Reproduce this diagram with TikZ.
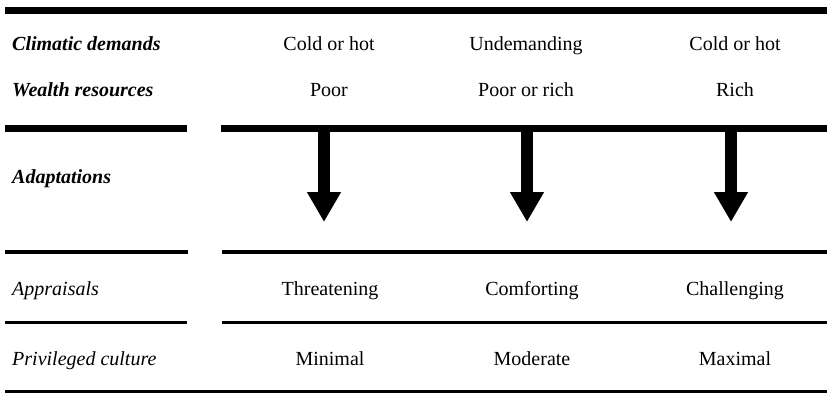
\documentclass[tikz,border=0pt]{standalone}
\usepackage{fontspec}
\setmainfont{Liberation Serif}
\usetikzlibrary{arrows.meta}
\begin{document}
\begin{tikzpicture}[x=1pt,y=-1pt,
  thick rule/.style={line width=7pt},
  thin rule/.style={line width=3.5pt},
  rowlabel/.style={anchor=base west,inner sep=0pt,font=\fontsize{20}{24}\selectfont},
  cell/.style={anchor=base,inner sep=0pt,font=\fontsize{20}{24}\selectfont},
  bigarrow/.style={line width=12pt,-{Triangle[width=32pt,length=30pt]}}]
\useasboundingbox (0,0) rectangle (827,394);
% rules
\coordinate (t0) at (5,10.5); \coordinate (t1) at (827,10.5);
\draw[thick rule] (t0) -- (t1);
\coordinate (s0) at (5,128); \coordinate (s1) at (187,128);
\coordinate (s2) at (221,128); \coordinate (s3) at (827,128);
\draw[thick rule] (s0) -- (s1);
\draw[thick rule] (s2) -- (s3);
\coordinate (u0) at (5,252); \coordinate (u1) at (188,252);
\coordinate (u2) at (222,252); \coordinate (u3) at (827,252);
\draw[thin rule] (u0) -- (u1);
\draw[thin rule] (u2) -- (u3);
\coordinate (v0) at (5,322.5); \coordinate (v1) at (187,322.5);
\coordinate (v2) at (222,322.5); \coordinate (v3) at (827,322.5);
\draw[thin rule] (v0) -- (v1);
\draw[thin rule] (v2) -- (v3);
\coordinate (w0) at (5,391.5); \coordinate (w1) at (827,391.5);
\draw[line width=2.5pt] (w0) -- (w1);
% row labels
\node[rowlabel] (l1) at (12,50) {\textbf{\textit{Climatic demands}}};
\node[rowlabel] (l2) at (12,96.5) {\textbf{\textit{Wealth resources}}};
\node[rowlabel] (l3) at (12,183) {\textbf{\textit{Adaptations}}};
\node[rowlabel] (l4) at (12,295) {\textit{Appraisals}};
\node[rowlabel] (l5) at (12,365) {\textit{Privileged culture}};
% cells
\node[cell] (c11) at (329,50) {Cold or hot};
\node[cell] (c12) at (526,50) {Undemanding};
\node[cell] (c13) at (735,50) {Cold or hot};
\node[cell] (c21) at (329,96.5) {Poor};
\node[cell] (c22) at (526,96.5) {Poor or rich};
\node[cell] (c23) at (735,96.5) {Rich};
\node[cell] (c41) at (330,295) {Threatening};
\node[cell] (c42) at (532,295) {Comforting};
\node[cell] (c43) at (735,295) {Challenging};
\node[cell] (c51) at (330,365) {Minimal};
\node[cell] (c52) at (532,365) {Moderate};
\node[cell] (c53) at (735,365) {Maximal};
% arrows
\coordinate (a1s) at (324,131); \coordinate (a1e) at (324,222);
\coordinate (a2s) at (527,131); \coordinate (a2e) at (527,222);
\coordinate (a3s) at (731,131); \coordinate (a3e) at (731,222);
\draw[bigarrow] (a1s) -- (a1e);
\draw[bigarrow] (a2s) -- (a2e);
\draw[bigarrow] (a3s) -- (a3e);
\end{tikzpicture}
\end{document}
